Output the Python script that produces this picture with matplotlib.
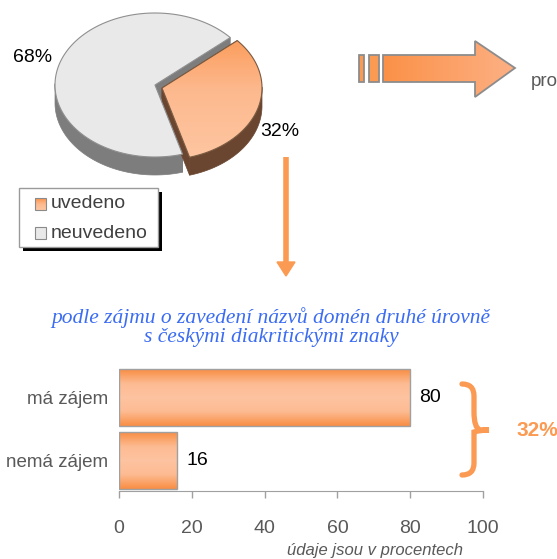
import numpy as np
import matplotlib
matplotlib.use("Agg")
import matplotlib.pyplot as plt
from matplotlib.patches import Polygon, Rectangle
from matplotlib.path import Path
from matplotlib.patches import PathPatch
from matplotlib.colors import LinearSegmentedColormap

# ---------------- data ----------------
pie_labels = ["uvedeno", "neuvedeno"]
pie_values = [32, 68]
bar_categories = ["má zájem", "nemá zájem"]
bar_values = [80, 16]
x_ticks = [0, 20, 40, 60, 80, 100]
title_text = "podle zájmu o zavedení názvů domén druhé úrovně\ns českými diakritickými znaky"
note_text = "údaje jsou v procentech"
brace_label = "32%"

ORANGE = "#fb9a52"
plt.rcParams['font.family'] = ['Liberation Sans', 'DejaVu Sans']

W, H = 557, 559
fig = plt.figure(figsize=(W / 100, H / 100), dpi=100)
ov = fig.add_axes([0, 0, 1, 1])
ov.set_xlim(0, W)
ov.set_ylim(H, 0)
ov.axis("off")

orange_cmap = LinearSegmentedColormap.from_list("o", ["#fb9148", "#fdb98e", "#fec7a3"])
bar_cmap = LinearSegmentedColormap.from_list("b", ["#f98e45", "#fdbb92", "#fec3a0", "#fdbb92", "#f98e45"])


def grad_fill(ax, patch, cmap, extent, vertical=True, z=2):
    ax.add_patch(patch)
    if vertical:
        g = np.linspace(0, 1, 100).reshape(-1, 1)
    else:
        g = np.linspace(0, 1, 100).reshape(1, -1)
    im = ax.imshow(g, cmap=cmap, extent=extent, aspect="auto", zorder=z, origin="upper")
    im.set_clip_path(patch)
    return im

# ---------------- 3D pie ----------------
cx, cy, rx, ry, depth = 155, 85, 100, 72, 18
total = sum(pie_values)
start = -74.0
slices = []
a = start
for lab, v in zip(pie_labels, pie_values):
    span = 360.0 * v / total
    slices.append((lab, a, a + span))
    a += span

styles = {
    "uvedeno": dict(top=None, side="#6a4630", edge="#7a5a40", off=(7, 3)),
    "neuvedeno": dict(top="#e9e9e9", side="#7d7d7d", edge="#8f8f8f", off=(0, 0)),
}


def pt(ang, ox, oy, dz=0):
    t = np.radians(ang)
    return (cx + ox + rx * np.cos(t), cy + oy - ry * np.sin(t) + dz)

for lab, a0, a1 in [slices[1], slices[0]]:
    st = styles[lab]
    ox, oy = st["off"]
    c_top = (cx + ox, cy + oy)
    c_bot = (cx + ox, cy + oy + depth)
    for ang in (a0, a1):
        p = pt(ang, ox, oy)
        pb = pt(ang, ox, oy, depth)
        ov.add_patch(Polygon([c_top, p, pb, c_bot], closed=True, fc=st["side"], ec=st["side"], lw=0.5, zorder=1))
    angs = np.linspace(a0, a1, 200)
    front = [x for x in angs if np.sin(np.radians(x)) < 0.02]
    if front:
        top_pts = [pt(x, ox, oy) for x in front]
        bot_pts = [pt(x, ox, oy, depth) for x in front[::-1]]
        ov.add_patch(Polygon(top_pts + bot_pts, closed=True, fc=st["side"], ec=st["side"], lw=0.5, zorder=1))
    verts = [c_top] + [pt(x, ox, oy) for x in angs]
    poly = Polygon(verts, closed=True, fc=st["top"] if st["top"] else "none", ec=st["edge"], lw=0.8, zorder=3)
    if st["top"] is None:
        grad_fill(ov, Polygon(verts, closed=True, fc="none", ec="none"), orange_cmap,
                  (cx + ox - 10, cx + ox + rx + 5, cy + oy + ry + 5, cy + oy - ry), z=2)
    ov.add_patch(poly)

ov.text(33, 58, "68%", ha="center", va="center", fontsize=14, color="black")
ov.text(280, 132, "32%", ha="center", va="center", fontsize=14, color="black")

# legend box
ov.add_patch(Rectangle((23, 192), 139, 59, fc="black", ec="none", zorder=4))
ov.add_patch(Rectangle((19, 188), 139, 59, fc="white", ec="#9a9a9a", lw=1, zorder=5))
for i, lab in enumerate(pie_labels):
    y = 204 + 29 * i
    if lab == "uvedeno":
        sq = Rectangle((35, y - 6), 11, 12, fc="none", ec="#8a8a8a", lw=0.8, zorder=7)
        grad_fill(ov, Rectangle((35, y - 6), 11, 12, fc="none", ec="none"), orange_cmap, (35, 46, y + 6, y - 6), z=6)
        ov.add_patch(sq)
    else:
        ov.add_patch(Rectangle((35, y - 6), 11, 12, fc="#e9e9e9", ec="#8a8a8a", lw=0.8, zorder=7))
    ov.text(51, y, lab, ha="left", va="center", fontsize=14, color="#404040", zorder=8)

# down arrow
ov.plot([286, 286], [157, 263], color=ORANGE, lw=4, solid_capstyle="butt", zorder=3)
ov.add_patch(Polygon([(277, 262), (295, 262), (286, 276)], closed=True, fc=ORANGE, ec=ORANGE, zorder=3))

# right arrow
arrow_cmap = LinearSegmentedColormap.from_list("a", ["#fb9148", "#fdb084"])
for r in [(359, 55, 5, 27), (369, 55, 10, 27)]:
    ov.add_patch(Rectangle((r[0], r[1]), r[2], r[3], fc=ORANGE, ec="#8c8c8c", lw=1.3, zorder=3))
arr = [(383, 55), (475, 55), (475, 41), (515, 68), (475, 97), (475, 82), (383, 82)]
grad_fill(ov, Polygon(arr, closed=True, fc="none", ec="none"), arrow_cmap, (383, 515, 97, 41), vertical=False, z=2)
ov.add_patch(Polygon(arr, closed=True, fc="none", ec="#8c8c8c", lw=1.3, zorder=3))
ov.text(531, 82, "pro", ha="left", va="center", fontsize=13.5, color="#595959")

# title
ov.text(271, 327, title_text, ha="center", va="center", fontsize=15.5, color="#3b6cf2",
        family="Liberation Serif", style="italic", linespacing=1.05)

# brace
verts = [(462, 384), (474, 384), (474, 396), (474, 412),
         (474, 428), (480, 430), (489, 430),
         (480, 430), (474, 432), (474, 448),
         (474, 463), (474, 475), (462, 475)]
codes = [Path.MOVETO, Path.CURVE3, Path.CURVE3, Path.LINETO,
         Path.CURVE3, Path.CURVE3, Path.LINETO,
         Path.CURVE3, Path.CURVE3, Path.LINETO,
         Path.LINETO, Path.CURVE3, Path.CURVE3]
ov.add_patch(PathPatch(Path(verts, codes), fc="none", ec=ORANGE, lw=3.8, capstyle="round", zorder=3))
ov.text(537, 430, brace_label, ha="center", va="center", fontsize=15, fontweight="bold", color=ORANGE)

ov.text(375, 550, note_text, ha="center", va="center", fontsize=12, style="italic", color="#595959")

# ---------------- bar chart ----------------
left_px, right_px, top_px, bot_px = 119, 483, 366, 491
ax = fig.add_axes([left_px / W, 1 - bot_px / H, (right_px - left_px) / W, (bot_px - top_px) / H])
ax.set_facecolor("none")
ypos = np.arange(len(bar_categories))
bars = ax.barh(ypos, bar_values, height=0.9, color="none", edgecolor="#a0a0a0", lw=1, zorder=3)
for b in bars:
    x0, y0 = b.get_x(), b.get_y()
    w, h = b.get_width(), b.get_height()
    clip = Rectangle((x0, y0), w, h, transform=ax.transData, fc="none", ec="none")
    ax.add_patch(clip)
    g = np.linspace(0, 1, 100).reshape(-1, 1)
    im = ax.imshow(g, cmap=bar_cmap, extent=(x0, x0 + w, y0 + h, y0), aspect="auto", zorder=2, origin="upper")
    im.set_clip_path(clip)
ax.set_xlim(0, 100)
ax.set_ylim(1.484, -0.5)
for yv, v in zip(ypos, bar_values):
    ax.text(v + 2.5, yv, str(v), ha="left", va="center", fontsize=14, color="black")
ax.set_yticks(ypos)
ax.set_yticklabels(bar_categories, fontsize=13.5, color="#595959")
ax.set_xticks(x_ticks)
ax.set_xticklabels([str(t) for t in x_ticks], fontsize=14, color="#595959")
ax.tick_params(axis="y", length=0, pad=8)
ax.tick_params(axis="x", length=5, color="#a0a0a0", pad=16, width=1)
for s in ["top", "right", "left"]:
    ax.spines[s].set_visible(False)
ax.spines["bottom"].set_color("#a0a0a0")

fig.savefig("out.png", dpi=100)
